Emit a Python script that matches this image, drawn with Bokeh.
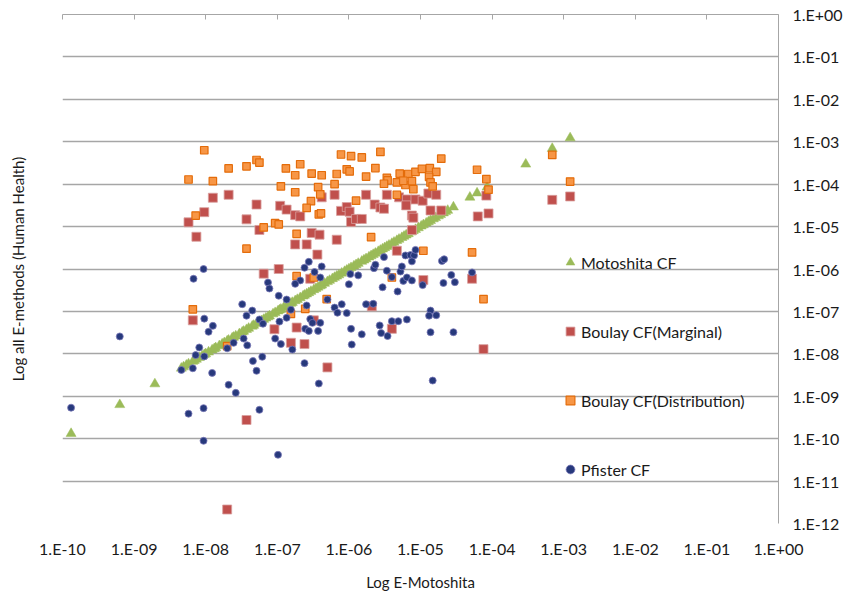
from bokeh.plotting import figure
from bokeh.models import (LogAxis, FixedTicker, CustomJSTickFormatter, Legend, LegendItem)
from bokeh.embed import file_html
from bokeh.resources import INLINE

# ---- data (values stored as log10 exponents) ----
motoshita_log = [-9.88, -9.20, -8.71, -8.34, -8.31, -8.27, -8.24, -8.18, -8.16, -8.13, -8.09, -8.05,
                 -8.02, -8.00, -7.96, -7.91, -7.88, -7.86, -7.81, -7.77, -7.74, -7.70, -7.68, -7.63,
                 -7.61, -7.58, -7.53, -7.49, -7.47, -7.43, -7.40, -7.35, -7.33, -7.29, -7.25, -7.22,
                 -7.19, -7.16, -7.13, -7.11, -7.06, -7.03, -6.99, -6.97, -6.95, -6.91, -6.87, -6.84,
                 -6.81, -6.79, -6.75, -6.72, -6.68, -6.64, -6.62, -6.59, -6.56, -6.53, -6.49, -6.46,
                 -6.43, -6.40, -6.38, -6.34, -6.30, -6.27, -6.23, -6.20, -6.17, -6.14, -6.10, -6.06,
                 -6.03, -6.00, -5.97, -5.93, -5.90, -5.87, -5.82, -5.79, -5.76, -5.72, -5.69, -5.66,
                 -5.63, -5.59, -5.56, -5.53, -5.50, -5.47, -5.44, -5.40, -5.37, -5.33, -5.30, -5.26,
                 -5.23, -5.20, -5.17, -5.13, -5.10, -5.07, -5.03, -4.99, -4.96, -4.92, -4.89, -4.86,
                 -4.82, -4.79, -4.75, -4.72, -4.68, -4.65, -4.62, -4.54, -4.31, -4.21, -4.07, -3.53,
                 -3.16, -2.91]

marginal_log_x = [-8.24, -8.13, -8.02, -7.90, -7.68, -7.43, -7.29, -7.25, -7.19, -6.98, -6.96, -6.87,
                  -6.75, -6.68, -6.75, -6.59, -6.52, -6.41, -6.38, -6.44, -6.54, -6.20, -6.17, -6.11,
                  -6.03, -5.99, -5.97, -5.90, -5.82, -5.76, -5.64, -5.56, -5.51, -5.47, -5.33, -5.30,
                  -5.19, -5.20, -5.07, -4.97, -5.12, -5.10, -5.12, -4.96, -4.89, -4.78, -4.86, -4.71,
                  -4.08, -4.20, -4.05, -3.16, -2.91, -4.28, -4.12, -6.30, -8.18, -7.04, -6.73, -6.81,
                  -6.62, -6.49, -5.68, -5.40, -7.43, -7.70]
marginal_log_y = [-4.90, -5.24, -4.66, -4.32, -4.25, -4.83, -4.48, -5.08, -6.11, -6.00, -4.51, -4.60,
                  -4.73, -4.76, -5.42, -5.42, -5.15, -5.19, -4.31, -5.66, -6.23, -4.25, -5.31, -4.63,
                  -4.54, -4.65, -4.89, -4.82, -4.82, -4.25, -4.48, -4.55, -4.58, -4.25, -5.57, -4.31,
                  -4.36, -4.50, -4.36, -4.39, -4.74, -4.79, -5.08, -6.26, -4.22, -4.25, -4.62, -4.62,
                  -4.27, -4.76, -4.69, -4.37, -4.29, -6.23, -7.89, -8.32, -7.21, -7.42, -7.38, -7.74,
                  -7.77, -7.21, -6.88, -7.41, -9.56, -11.67]

distribution_log_x = [-8.24, -8.02, -7.90, -8.14, -7.68, -7.43, -7.29, -7.25, -7.43, -7.19, -7.03, -6.98,
                      -6.95, -6.88, -6.75, -6.75, -6.68, -6.53, -6.59, -6.42, -6.39, -6.52, -6.38, -6.43,
                      -6.40, -6.73, -6.73, -6.49, -6.11, -5.97, -5.82, -5.56, -6.17, -6.03, -5.99, -6.20,
                      -5.90, -5.76, -5.63, -5.69, -5.47, -5.46, -5.51, -5.29, -5.17, -5.07, -4.98, -4.87,
                      -4.78, -4.71, -5.33, -5.33, -5.21, -5.24, -5.12, -5.10, -4.88, -4.86, -4.83, -4.96,
                      -6.31, -4.21, -4.08, -4.05, -3.16, -2.91, -4.28, -4.12, -8.18, -7.70, -6.81, -6.61,
                      -5.40]
distribution_log_y = [-3.89, -3.20, -3.93, -4.74, -3.63, -3.58, -3.43, -3.49, -5.52, -5.02, -4.92, -4.95,
                      -4.05, -3.63, -3.79, -4.19, -3.53, -4.40, -4.56, -4.71, -4.69, -3.75, -3.79, -4.07,
                      -4.24, -5.17, -6.17, -6.20, -3.30, -3.34, -3.37, -3.24, -3.76, -3.65, -3.70, -4.00,
                      -4.39, -3.82, -3.62, -5.25, -3.85, -3.91, -3.99, -3.75, -3.76, -3.71, -3.64, -3.62,
                      -3.71, -3.40, -4.25, -3.96, -4.02, -3.92, -3.93, -4.12, -3.83, -3.96, -4.05, -5.57,
                      -6.71, -3.66, -3.88, -4.13, -3.31, -3.94, -5.61, -6.71, -6.95, -7.82, -7.06, -6.94,
                      -6.20]

pfister_log_x = [-9.88, -9.20, -8.34, -8.18, -8.14, -8.09, -8.02, -7.96, -7.90, -7.91, -8.24, -8.03,
                 -8.03, -7.68, -7.58, -7.70, -7.61, -7.47, -7.42, -7.34, -7.29, -7.21, -7.25, -6.99,
                 -7.03, -6.95, -6.79, -6.62, -6.42, -8.17, -8.03, -8.02, -7.49, -7.43, -7.35, -7.25,
                 -7.20, -7.13, -7.11, -6.98, -6.87, -6.81, -6.97, -6.87, -6.62, -6.56, -6.48, -6.38,
                 -6.40, -6.68, -6.75, -6.59, -6.54, -6.51, -6.40, -6.61, -6.56, -6.43, -6.30, -6.20,
                 -6.16, -6.10, -6.03, -5.97, -5.96, -5.82, -6.00, -5.98, -5.87, -5.76, -5.66, -5.57,
                 -5.55, -5.46, -5.40, -5.31, -5.19, -5.65, -5.63, -5.51, -5.47, -5.53, -5.40, -5.32,
                 -5.28, -5.26, -5.24, -5.19, -5.12, -5.21, -5.14, -5.09, -5.12, -4.97, -4.86, -4.88,
                 -4.78, -4.86, -4.83, -4.70, -4.67, -4.68, -4.57, -4.52, -4.54, -4.28, -5.07]
pfister_log_y = [-9.27, -7.59, -8.38, -8.34, -8.03, -7.85, -8.06, -7.48, -7.34, -8.45, -9.41, -9.28,
                 -10.05, -8.73, -8.92, -7.87, -7.74, -7.64, -7.80, -8.17, -8.40, -8.07, -9.32, -10.38,
                 -7.64, -7.77, -7.90, -8.22, -8.70, -6.23, -6.00, -7.17, -6.83, -7.10, -6.98, -7.19,
                 -7.29, -6.32, -6.46, -6.63, -6.72, -6.96, -7.24, -7.15, -5.97, -5.83, -6.07, -5.94,
                 -6.20, -6.27, -6.35, -6.86, -7.18, -7.27, -7.27, -7.41, -7.46, -7.46, -6.72, -6.91,
                 -7.03, -6.83, -7.04, -7.41, -7.78, -7.54, -6.36, -6.12, -6.15, -6.83, -6.82, -7.33,
                 -7.51, -7.58, -7.23, -7.23, -7.19, -5.98, -5.90, -5.72, -6.04, -6.43, -6.19, -6.53,
                 -6.06, -5.94, -6.28, -6.20, -6.27, -5.68, -5.67, -5.68, -5.82, -6.38, -6.98, -7.10,
                 -7.09, -7.49, -8.63, -5.81, -5.77, -6.33, -6.14, -6.31, -7.49, -6.08, -5.55]

x_tick_exponents = list(range(-10, 1))
y_tick_exponents = list(range(-12, 1))

x_label = "Log E-Motoshita"
y_label = "Log all E-methods (Human Health)"
series_labels = ["Motoshita CF", "Boulay CF(Marginal)", "Boulay CF(Distribution)", "Pfister CF"]


def pw(vals):
    return [10 ** v for v in vals]


FONT = "Lato"
TXT = "#1a1a1a"

p = figure(frame_width=716, frame_height=509, x_axis_type="log", y_axis_type="log",
           x_range=(1e-10, 1), y_range=(1e-12, 1),
           x_axis_location="above", y_axis_location="right",
           toolbar_location=None, output_backend="svg",
           min_border_left=62, min_border_right=62, min_border_top=14, min_border_bottom=20)
p.outline_line_color = None
p.background_fill_color = "white"
p.border_fill_color = "white"

fmt = CustomJSTickFormatter(code="""
const e = Math.round(Math.log10(tick));
const s = e < 0 ? '-' : '+';
const a = Math.abs(e);
return '1.E' + s + (a < 10 ? '0' + a : '' + a);
""")

xt = FixedTicker(ticks=pw(x_tick_exponents), minor_ticks=[])
yt = FixedTicker(ticks=pw(y_tick_exponents), minor_ticks=[])

# top x axis: line + inward ticks only (labels invisible)
top = p.xaxis[0]
top.ticker = xt
top.formatter = fmt
top.axis_line_color = "#A6A6A6"
top.major_tick_line_color = "#A6A6A6"
top.major_tick_in = 5
top.major_tick_out = 0
top.minor_tick_in = 0
top.minor_tick_out = 0
top.major_label_text_font_size = "1px"
top.major_label_text_alpha = 0
top.major_label_standoff = 0

# right y axis with labels
right = p.yaxis[0]
right.ticker = yt
right.formatter = fmt
right.axis_line_color = "#A6A6A6"
right.major_tick_in = 0
right.major_tick_out = 0
right.minor_tick_in = 0
right.minor_tick_out = 0
right.major_label_standoff = 14
right.major_label_text_font = FONT
right.major_label_text_font_size = "16px"
right.major_label_text_color = TXT

# bottom axis: labels only
bottom = LogAxis(ticker=xt, formatter=fmt, axis_label=x_label)
bottom.axis_line_alpha = 0
bottom.major_tick_in = 0
bottom.major_tick_out = 0
bottom.minor_tick_in = 0
bottom.minor_tick_out = 0
bottom.major_label_standoff = 15
bottom.major_label_text_font = FONT
bottom.major_label_text_font_size = "16px"
bottom.major_label_text_color = TXT
bottom.axis_label_standoff = 12
bottom.axis_label_text_font = FONT
bottom.axis_label_text_font_size = "15px"
bottom.axis_label_text_font_style = "normal"
bottom.axis_label_text_color = TXT
p.add_layout(bottom, "below")

# left axis: title only (tick labels invisible)
left = LogAxis(ticker=yt, formatter=fmt, axis_label=y_label)
left.axis_line_alpha = 0
left.major_tick_in = 0
left.major_tick_out = 0
left.minor_tick_in = 0
left.minor_tick_out = 0
left.major_label_text_font_size = "1px"
left.major_label_text_alpha = 0
left.major_label_standoff = 0
left.axis_label_standoff = 36
left.axis_label_text_font = FONT
left.axis_label_text_font_size = "15px"
left.axis_label_text_font_style = "normal"
left.axis_label_text_color = TXT
p.add_layout(left, "left")

p.xgrid.visible = False
p.ygrid.ticker = yt
p.ygrid.grid_line_color = "#A6A6A6"
p.ygrid.grid_line_width = 1.3

r_g = p.scatter(pw(motoshita_log), pw(motoshita_log), marker="triangle", size=10,
                fill_color="#9BBB59", line_color="#9BBB59", line_width=0.5)
r_r = p.scatter(pw(marginal_log_x), pw(marginal_log_y), marker="square", size=9,
                fill_color="#C0504D", line_color="#D9A09E", line_width=0.8)
r_o = p.scatter(pw(distribution_log_x), pw(distribution_log_y), marker="square", size=7.5,
                fill_color="#F79646", line_color="#E46C0A", line_width=1.2)
r_b = p.scatter(pw(pfister_log_x), pw(pfister_log_y), marker="circle", size=7,
                fill_color="#27397C", line_color="#7A78B8", line_width=0.8)

legend = Legend(items=[LegendItem(label=series_labels[0], renderers=[r_g]),
                       LegendItem(label=series_labels[1], renderers=[r_r]),
                       LegendItem(label=series_labels[2], renderers=[r_o]),
                       LegendItem(label=series_labels[3], renderers=[r_b])],
                location=(497, 43), orientation="vertical",
                glyph_width=22, glyph_height=22, label_height=22, spacing=47,
                padding=0, margin=0, label_standoff=0,
                background_fill_alpha=0, border_line_alpha=0,
                label_text_font=FONT, label_text_font_size="16px", label_text_color=TXT)
p.add_layout(legend)

open("out.html", "w").write(file_html(p, INLINE))
